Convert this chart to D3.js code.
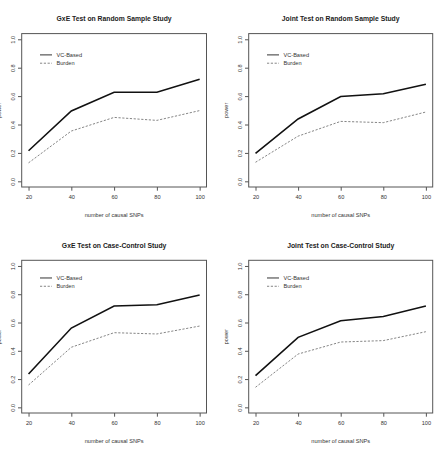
<!DOCTYPE html>
<html>
<head>
<meta charset="utf-8">
<script src="https://cdn.jsdelivr.net/npm/d3@7"></script>
<style>
  body { margin: 0; background: #fff; }
  svg { display: block; font-family: "Liberation Sans", Arial, sans-serif; }
</style>
</head>
<body>
<script>
// number of causal SNPs on the x axis
const snpCounts = [20, 40, 60, 80, 100];
const yTicks = [0, 0.2, 0.4, 0.6, 0.8, 1.0];
const seriesNames = ["VC-Based", "Burden"];

// power values
const gxeRandomVC = [0.215, 0.495, 0.627, 0.627, 0.719];
const gxeRandomBurden = [0.13, 0.354, 0.45, 0.429, 0.498];
const jointRandomVC = [0.196, 0.439, 0.597, 0.616, 0.684];
const jointRandomBurden = [0.134, 0.318, 0.422, 0.413, 0.488];
const gxeCaseVC = [0.236, 0.561, 0.717, 0.726, 0.795];
const gxeCaseBurden = [0.158, 0.425, 0.528, 0.519, 0.575];
const jointCaseVC = [0.224, 0.495, 0.613, 0.642, 0.717];
const jointCaseBurden = [0.142, 0.377, 0.462, 0.472, 0.535];

const titles = [
  "GxE Test on Random Sample Study",
  "Joint Test on Random Sample Study",
  "GxE Test on Case-Control Study",
  "Joint Test on Case-Control Study"
];

const panels = [
  { title: titles[0], vc: gxeRandomVC, burden: gxeRandomBurden, col: 0, row: 0, legY: 0.89 },
  { title: titles[1], vc: jointRandomVC, burden: jointRandomBurden, col: 1, row: 0, legY: 0.89 },
  { title: titles[2], vc: gxeCaseVC, burden: gxeCaseBurden, col: 0, row: 1, legY: 0.915 },
  { title: titles[3], vc: jointCaseVC, burden: jointCaseBurden, col: 1, row: 1, legY: 0.915 }
];

const width = 440, height = 454;
const colBox = [[21.7, 206.5], [248.7, 432.7]];
const rowBox = [[33.6, 187], [260.3, 413]];

const svg = d3.select("body").append("svg")
  .attr("width", width)
  .attr("height", height);

const axisCol = "#555";
const textCol = "#333";

panels.forEach(p => {
  const [bx0, bx1] = colBox[p.col];
  const [by0, by1] = rowBox[p.row];

  // R style 4% padding on both axes
  const x = d3.scaleLinear().domain([16.8, 103.2]).range([bx0, bx1]);
  const y = d3.scaleLinear().domain([-0.04, 1.04]).range([by1, by0]);

  const g = svg.append("g");

  g.append("rect")
    .attr("x", bx0).attr("y", by0)
    .attr("width", bx1 - bx0).attr("height", by1 - by0)
    .attr("fill", "none").attr("stroke", axisCol).attr("stroke-width", 1);

  // x axis
  const xAxis = g.append("g")
    .attr("transform", `translate(0,${by1})`)
    .call(d3.axisBottom(x).tickValues(snpCounts).tickSize(3.7).tickPadding(4)
      .tickFormat(d3.format("d")));
  xAxis.select(".domain")
    .attr("d", `M${x(20)},0H${x(100)}`)
    .attr("stroke", "none");
  xAxis.selectAll(".tick line").attr("stroke", axisCol);
  xAxis.selectAll("text")
    .attr("font-size", 5.6).attr("fill", textCol).attr("font-family", null);

  // y axis, rotated labels like R
  const yAxis = g.append("g")
    .attr("transform", `translate(${bx0},0)`)
    .call(d3.axisLeft(y).tickValues(yTicks).tickSize(3.7).tickFormat(d3.format(".1f")));
  yAxis.select(".domain").attr("stroke", "none");
  yAxis.selectAll(".tick line").attr("stroke", axisCol);
  yAxis.selectAll("text")
    .attr("font-size", 5.6).attr("fill", textCol).attr("font-family", null)
    .attr("x", null).attr("dy", null)
    .attr("text-anchor", "middle")
    .attr("transform", "translate(-6.4,0) rotate(-90)");

  // title
  g.append("text")
    .attr("x", (bx0 + bx1) / 2).attr("y", by0 - 12.5)
    .attr("text-anchor", "middle")
    .attr("font-size", 6.8).attr("font-weight", "bold").attr("fill", "#222")
    .text(p.title);

  // axis titles
  g.append("text")
    .attr("x", (bx0 + bx1) / 2).attr("y", by1 + 30)
    .attr("text-anchor", "middle")
    .attr("font-size", 5.6).attr("fill", textCol)
    .text("number of causal SNPs");

  g.append("text")
    .attr("transform", `translate(${bx0 - 20.5},${(by0 + by1) / 2}) rotate(-90)`)
    .attr("text-anchor", "middle")
    .attr("font-size", 5.6).attr("fill", textCol)
    .text("power");

  const line = d3.line()
    .x((d, i) => x(snpCounts[i]))
    .y(d => y(d));

  g.append("path")
    .datum(p.burden)
    .attr("d", line)
    .attr("fill", "none")
    .attr("stroke", "#666")
    .attr("stroke-width", 0.8)
    .attr("stroke-dasharray", "2.2,1.6");

  g.append("path")
    .datum(p.vc)
    .attr("d", line)
    .attr("fill", "none")
    .attr("stroke", "#111")
    .attr("stroke-width", 1.6);

  // legend
  const lx = bx0 + 18.3;
  const ly = y(p.legY);
  seriesNames.forEach((name, i) => {
    const yy = ly + i * 8.3;
    g.append("line")
      .attr("x1", lx).attr("x2", lx + 12)
      .attr("y1", yy).attr("y2", yy)
      .attr("stroke", i === 0 ? "#333" : "#666")
      .attr("stroke-width", i === 0 ? 1 : 0.8)
      .attr("stroke-dasharray", i === 0 ? null : "2.2,1.6");
    g.append("text")
      .attr("x", lx + 16.5).attr("y", yy)
      .attr("dy", "0.35em")
      .attr("font-size", 5.6).attr("fill", textCol)
      .text(name);
  });
});
</script>
</body>
</html>
